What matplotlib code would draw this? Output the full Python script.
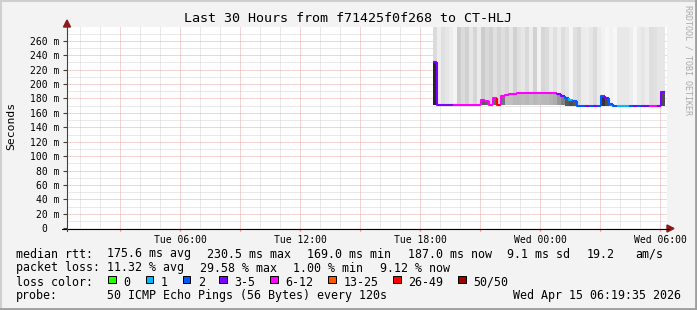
import numpy as np
import matplotlib.pyplot as plt
from matplotlib.lines import Line2D
from matplotlib.patches import Rectangle, Polygon
from matplotlib.collections import LineCollection

plt.rcParams['font.family'] = 'DejaVu Sans Mono'

# ---- data (hours since Tue 00:00, one bin = 12 minutes) ----
start_hour = 18.65
bin_hours = 0.2

median_ms = [230.5,
             171, 171, 171, 171, 171, 171, 171, 171, 171, 171, 171,
             178, 176, 171, 181, 171, 183,
             185, 186, 186.5, 187, 187, 187.5, 187, 187, 187.5, 187, 187, 187.5, 187,
             186, 184, 181, 178, 176,
             170,
             169.5, 169.5, 169.5, 169.5, 169.5,
             184, 180, 172,
             169.5, 169.5, 169.5, 169.5, 169.5, 169.5, 169.5, 169.5, 169.5, 169.5, 169.5, 169.5,
             189]

loss_idx = [3, 3, 3, 3, 3,
            4, 4, 4, 4, 4, 4, 4, 4, 4, 4, 4,
            6,
            4, 4, 4, 4, 4, 4, 4, 4, 4, 4, 4, 4, 4, 4,
            3, 3, 2, 1, 2, 2, 2, 3, 2, 3, 2, 2, 3, 2, 2,
            1, 1, 1, 2, 3, 2, 3, 3, 4, 4, 3, 3]

# grey level of the sparse smoke above the median (1.0 = none)
smoke_gray = [0.86, 0.93, 0.88, 0.90, 0.93, 0.96, 0.80, 0.86, 0.82, 0.90,
              0.84, 0.92, 0.80, 0.85, 0.82, 0.88, 0.83, 0.87, 0.84, 0.90,
              0.82, 0.88, 0.90, 0.85, 0.92, 0.82, 0.95, 0.84, 0.86, 0.92,
              0.88, 0.93, 0.87, 0.90, 0.96, 0.88, 0.85, 0.92, 0.93, 0.90,
              0.86, 0.92, 0.95, 0.97, 0.95, 0.97, 0.91, 0.91, 0.91, 0.93,
              0.97, 0.92, 0.90, 0.93, 0.87, 0.88, 0.90, 0.90]

# dense smoke below the median: lowest ping and its grey level
core_lo = [171,
           171, 171, 171, 171, 171, 171, 171, 171, 171, 171, 171,
           171, 171, 171, 171, 171, 171,
           171, 171, 171, 171, 171, 171, 171, 171, 171, 171, 171, 171, 171,
           171, 171, 170, 170, 170,
           170,
           169.5, 169.5, 169.5, 169.5, 169.5,
           170, 170, 170,
           169.5, 169.5, 169.5, 169.5, 169.5, 169.5, 169.5, 169.5, 169.5, 169.5, 169.5, 169.5,
           170]
core_gray = [0.15,
             1, 1, 1, 1, 1, 1, 1, 1, 1, 1, 1,
             0.35, 0.4, 1, 0.4, 1, 0.45,
             0.75, 0.75, 0.72, 0.72, 0.74, 0.72, 0.75, 0.72, 0.74, 0.72, 0.72, 0.7, 0.68,
             0.6, 0.5, 0.35, 0.3, 0.35,
             1,
             1, 1, 1, 1, 1,
             0.2, 0.3, 0.45,
             1, 1, 1, 1, 1, 1, 1, 1, 1, 1, 1, 1,
             0.3]

loss_colors = ['#26ff00', '#00b8ff', '#0059ff', '#7e00ff', '#ff00ff', '#ff5500', '#ff0000', '#a10000']
loss_labels = ['0', '1', '2', '3-5', '6-12', '13-25', '26-49', '50/50']

x_ticks = [6, 12, 18, 24, 30]
x_labels = ['Tue 06:00', 'Tue 12:00', 'Tue 18:00', 'Wed 00:00', 'Wed 06:00']
y_ticks = list(range(0, 280, 20))
y_labels = ['0  '] + ['%d m' % v for v in y_ticks[1:]]

# ---- figure ----
W, H = 697, 310
fig = plt.figure(figsize=(W / 100, H / 100), dpi=100, facecolor='#f3f3f3')


def fx(px):
    return px / W


def fy(py):
    return 1 - py / H


x0, x1 = 0.35, 30.35
y_top = 278.6
ax = fig.add_axes([fx(67), fy(228.3), 600 / W, (228.3 - 27.3) / H])
ax.set_xlim(x0, x1)
ax.set_ylim(0, y_top)
ax.set_facecolor('white')
for s in ax.spines.values():
    s.set_visible(False)

# grid (dotted, like rrdtool)
grid_kw = dict(lw=0.72, dashes=(1, 1))
for h in range(1, 31):
    if h % 3:
        ax.axvline(h, color='#d4d4d4', zorder=1, **grid_kw)
for v in range(10, 280, 20):
    ax.axhline(v, color='#d4d4d4', zorder=1, **grid_kw)
for h in range(3, 31, 3):
    ax.axvline(h, color='#e8aaaa', zorder=1.1, **grid_kw)
for v in range(20, 280, 20):
    ax.axhline(v, color='#e8aaaa', zorder=1.1, **grid_kw)

# smoke
t = start_hour + bin_hours * np.arange(len(median_ms))
med = np.array(median_ms)
ax.bar(t, y_top - med, bottom=med, width=bin_hours, align='edge',
       color=[str(g) for g in smoke_gray], lw=0, zorder=2)
lo = np.array(core_lo)
ax.bar(t, med - lo, bottom=lo, width=bin_hours, align='edge',
       color=[str(g) for g in core_gray], lw=0, zorder=3)

# median line coloured by loss
segs, cols = [], []
for i in range(len(med)):
    prev = med[i - 1] if i > 0 else med[i]
    segs.append([(t[i], prev), (t[i], med[i]), (t[i] + bin_hours, med[i])])
    cols.append(loss_colors[loss_idx[i]])
ax.add_collection(LineCollection(segs, colors=cols, lw=1.5, zorder=4))

# ticks
ax.set_yticks(y_ticks)
ax.set_yticklabels(y_labels)
ax.set_xticks(x_ticks)
ax.set_xticklabels(x_labels)
ax.set_xticks(range(3, 31, 3), minor=True)
ax.tick_params(axis='y', length=3, width=0.8, color='#404040', pad=2.5, labelsize=7)
ax.tick_params(axis='x', which='both', length=2, width=0.8, color='#e08080', pad=3, labelsize=7)

# axes and arrows
fig.add_artist(Line2D([fx(62), fx(669)], [fy(228.5), fy(228.5)], color='black', lw=0.8))
fig.add_artist(Line2D([fx(67), fx(67)], [fy(231), fy(24)], color='#404040', lw=0.8))
fig.add_artist(Polygon([(fx(667), fy(225)), (fx(667), fy(232)), (fx(674), fy(228.5))],
                       closed=True, color='#8b1a1a', transform=fig.transFigure))
fig.add_artist(Polygon([(fx(63.5), fy(27)), (fx(70.5), fy(27)), (fx(67), fy(20))],
                       closed=True, color='#8b1a1a', transform=fig.transFigure))

# titles
fig.text(fx(348), fy(19), 'Last 30 Hours from f71425f0f268 to CT-HLJ',
         ha='center', va='center', fontsize=9.6)
fig.text(fx(11), fy(126), 'Seconds', rotation=90, ha='center', va='center', fontsize=8.2)
fig.text(fx(688), fy(5), 'RRDTOOL / TOBI OETIKER', rotation=270, ha='center', va='top',
         fontsize=6, color='#aaaaaa')

# legend rows
fs = 8.4
rows = {
    254: [(16, 'median rtt:'), (107.3, '175.6 ms avg'), (207.3, '230.5 ms max'),
          (307.3, '169.0 ms min'), (408.3, '187.0 ms now'), (506.7, '9.1 ms sd'),
          (586.7, '19.2'), (635, 'am/s')],
    268: [(16, 'packet loss:'), (107.3, '11.32 % avg'), (200, '29.58 % max'),
          (293.3, '1.00 % min'), (380, '9.12 % now')],
    296: [(16, 'probe:'), (107.3, '50 ICMP Echo Pings (56 Bytes) every 120s'),
          (513.3, 'Wed Apr 15 06:19:35 2026')],
}
for y, items in rows.items():
    for x, s in items:
        fig.text(fx(x), fy(y), s, ha='left', va='center', fontsize=fs)

fig.text(fx(16), fy(282), 'loss color:', ha='left', va='center', fontsize=fs)
box_x = [108.3, 145.7, 182.7, 219.3, 270, 328.3, 393.3, 458.3]
for bx, c, lab in zip(box_x, loss_colors, loss_labels):
    fig.add_artist(Rectangle((fx(bx), fy(283)), 7.5 / W, 7.5 / H, facecolor=c,
                             edgecolor='black', lw=0.7, transform=fig.transFigure))
    fig.text(fx(bx + 15), fy(282), lab, ha='left', va='center', fontsize=fs)

# frame shading
fig.add_artist(Line2D([0, 1], [fy(0.5), fy(0.5)], color='#cfcfcf', lw=1.5))
fig.add_artist(Line2D([fx(0.5), fx(0.5)], [0, 1], color='#cfcfcf', lw=1.5))
fig.add_artist(Line2D([0, 1], [fy(308.8), fy(308.8)], color='#9e9e9e', lw=2))
fig.add_artist(Line2D([fx(695.8), fx(695.8)], [0, 1], color='#9e9e9e', lw=2))

fig.savefig('out.png', dpi=100, facecolor=fig.get_facecolor())
